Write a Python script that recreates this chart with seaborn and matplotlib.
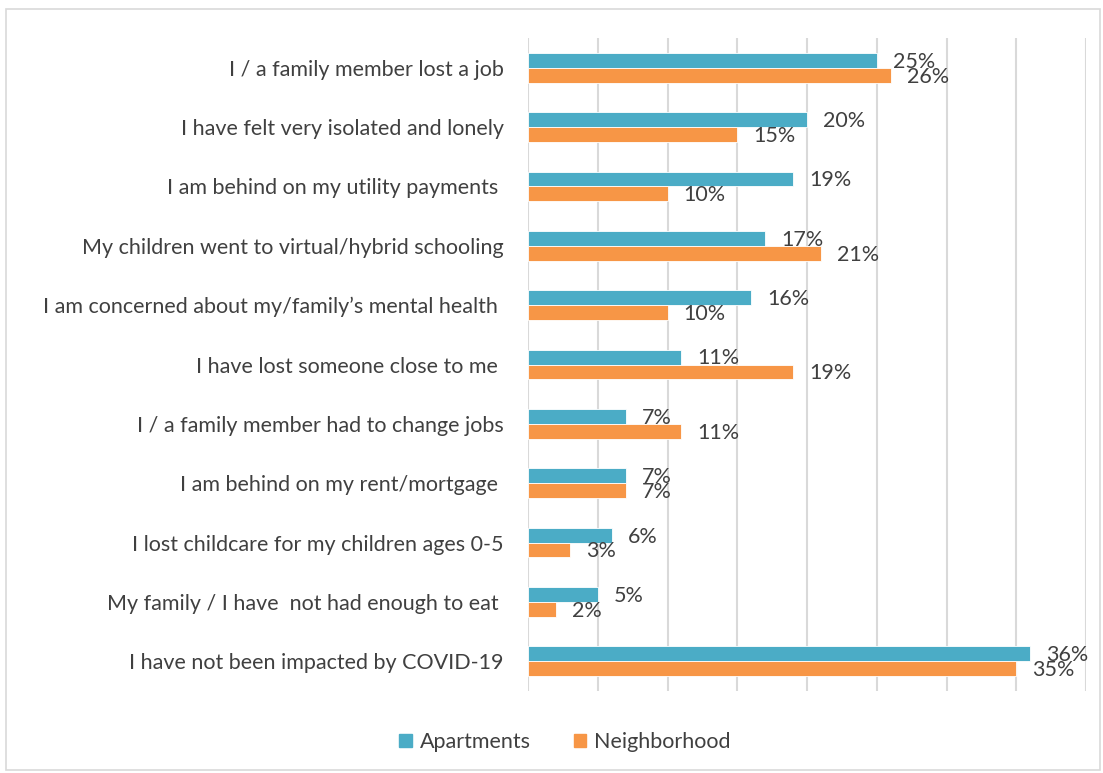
import pandas as pd
import seaborn as sns
import matplotlib.pyplot as plt
from matplotlib.patches import Rectangle

categories = [
    "I / a family member lost a job",
    "I have felt very isolated and lonely",
    "I am behind on my utility payments ",
    "My children went to virtual/hybrid schooling",
    "I am concerned about my/family\u2019s mental health ",
    "I have lost someone close to me ",
    "I / a family member had to change jobs",
    "I am behind on my rent/mortgage ",
    "I lost childcare for my children ages 0-5",
    "My family / I have  not had enough to eat ",
    "I have not been impacted by COVID-19",
]
apartments = [25, 20, 19, 17, 16, 11, 7, 7, 6, 5, 36]
neighborhood = [26, 15, 10, 21, 10, 19, 11, 7, 3, 2, 35]
series = ["Apartments", "Neighborhood"]
colors = ["#4BACC6", "#F79646"]

df = pd.DataFrame({"category": categories * 2,
                   "value": apartments + neighborhood,
                   "series": [series[0]] * len(categories) + [series[1]] * len(categories)})

sns.set_style("white")
plt.rcParams['font.family'] = ['Lato', 'DejaVu Sans']
text_col = "#404040"
fs = 15.5

fig = plt.figure(figsize=(11.03, 7.73), dpi=100)
ax = fig.add_axes([0.4787, 0.1061, 0.5059, 0.8447])

sns.barplot(data=df, x="value", y="category", hue="series", palette=colors,
            orient="h", width=0.5, saturation=1, edgecolor="white", linewidth=0.6,
            ax=ax, legend=False, zorder=3)

ax.set_xlim(0, 40)
ax.set_xticks(range(0, 41, 5))
ax.xaxis.grid(True, color="#D9D9D9", linewidth=1.5, zorder=0)
ax.set_axisbelow(True)
ax.tick_params(axis="x", bottom=False, labelbottom=False)
ax.tick_params(axis="y", left=False, labelsize=fs, labelcolor=text_col, pad=14)
ax.set_xlabel("")
ax.set_ylabel("")
for s in ax.spines.values():
    s.set_visible(False)

for cont in ax.containers:
    for bar in cont:
        w = bar.get_width()
        ax.annotate(f"{w:.0f}%", (w, bar.get_y() + bar.get_height() / 2),
                    xytext=(11.5, -1), textcoords="offset points",
                    ha="left", va="center", fontsize=fs, color=text_col)

# legend
handles = [Rectangle((0, 0), 1, 1, color=c) for c in colors]
fig.legend(handles, series, loc="center", bbox_to_anchor=(0.512, 0.04),
           ncol=2, frameon=False, fontsize=fs, handlelength=0.6, handleheight=0.6,
           columnspacing=2.0, handletextpad=0.35, labelcolor=text_col)

# chart border
fig.patches.append(Rectangle((6 / 1103, 3 / 773), 1094 / 1103, 761 / 773,
                             transform=fig.transFigure, fill=False,
                             edgecolor="#D9D9D9", linewidth=1.2))

fig.savefig("out.png", dpi=100)
